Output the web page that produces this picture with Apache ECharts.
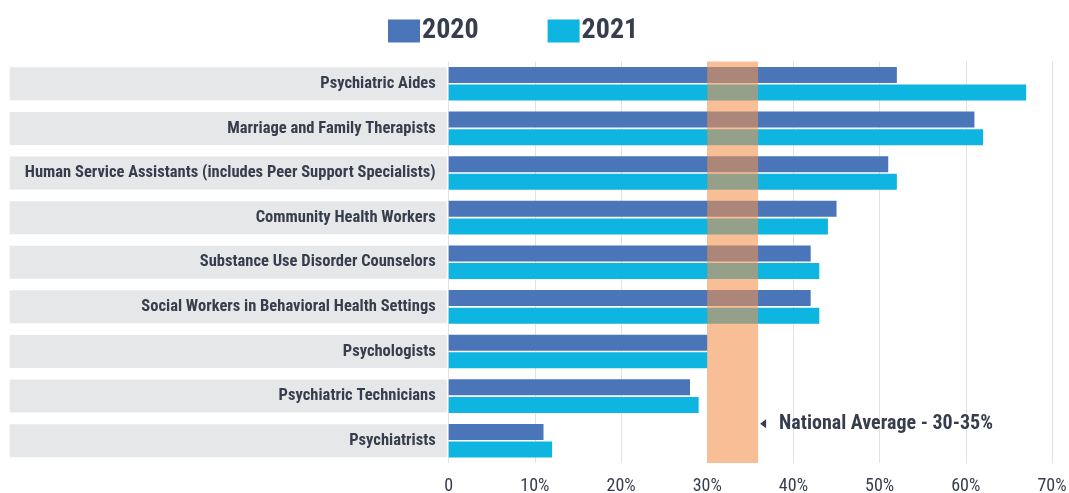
<!DOCTYPE html>
<html>
<head>
<meta charset="utf-8">
<script src="https://cdn.jsdelivr.net/npm/echarts@6/dist/echarts.min.js"></script>
<style>html,body{margin:0;padding:0;background:#fff;}#c{width:1069px;height:493px;}</style>
</head>
<body>
<div id="c"></div>
<script>
const categories = [
  'Psychiatric Aides',
  'Marriage and Family Therapists',
  'Human Service Assistants (includes Peer Support Specialists)',
  'Community Health Workers',
  'Substance Use Disorder Counselors',
  'Social Workers in Behavioral Health Settings',
  'Psychologists',
  'Psychiatric Technicians',
  'Psychiatrists'
];
const values2020 = [52, 61, 51, 45, 42, 42, 30, 28, 11];
const values2021 = [67, 62, 52, 44, 43, 43, 30, 29, 12];
const seriesNames = ['2020', '2021'];
const nationalAvgRange = [30, 35.9];
const nationalAvgLabel = 'National Average - 30-35%';
const xTicks = [0, 10, 20, 30, 40, 50, 60, 70];

const FONT = "'Roboto Condensed','Liberation Sans Narrow','DejaVu Sans Condensed',Roboto,sans-serif";
const TXT = '#363d4c';

const chart = echarts.init(document.getElementById('c'));
chart.setOption({
  animation: false,
  backgroundColor: '#ffffff',
  legend: {
    left: 383, top: 12,
    itemWidth: 32, itemHeight: 23, itemGap: 69,
    icon: 'rect',
    textStyle: { fontFamily: FONT, fontWeight: 'bold', fontSize: 28, color: TXT, padding: [0, 0, 0, -3] },
    data: seriesNames
  },
  grid: { left: 448.7, right: 17, top: 61.5, bottom: 30, containLabel: false, outerBoundsMode: 'none' },
  xAxis: {
    type: 'value', min: xTicks[0], max: xTicks[xTicks.length - 1], interval: 10,
    axisLine: { show: false }, axisTick: { show: false },
    splitLine: { show: true, lineStyle: { color: '#e2e2e2', width: 1 } },
    axisLabel: {
      margin: 14, fontFamily: FONT, fontSize: 18, color: TXT,
      formatter: v => v === 0 ? '0' : v + '%'
    }
  },
  yAxis: {
    type: 'category', data: categories, inverse: true,
    axisLine: { show: false }, axisTick: { show: false },
    axisLabel: {
      margin: 2, fontFamily: FONT, fontWeight: 'bold', fontSize: 16.5, color: TXT,
      backgroundColor: '#e6e7e8', width: 426, height: 30, lineHeight: 30,
      align: 'right', padding: [3, 11, 0, 0], overflow: 'none'
    }
  },
  series: [
    {
      name: seriesNames[0], type: 'bar', data: values2020,
      barWidth: 16, barGap: '10%',
      itemStyle: { color: '#4a76b9' }
    },
    {
      name: seriesNames[1], type: 'bar', data: values2021,
      barWidth: 16, barGap: '10%',
      itemStyle: { color: '#0db5e0' }
    },
    {
      name: 'avg', type: 'line', data: [], z: 5, silent: true,
      markArea: {
        silent: true, z: 10,
        itemStyle: { color: 'rgba(243,147,79,0.59)' },
        data: [[{ xAxis: nationalAvgRange[0] }, { xAxis: nationalAvgRange[1] }]]
      },
      markPoint: {
        silent: true, z: 11,
        symbol: 'triangle', symbolSize: [9, 6], symbolRotate: 90,
        symbolOffset: [5, -17],
        itemStyle: { color: TXT },
        label: {
          show: true, position: 'right', distance: 13,
          fontFamily: FONT, fontWeight: 'bold', fontSize: 20, color: TXT,
          formatter: nationalAvgLabel
        },
        data: [{ coord: [nationalAvgRange[1], categories[categories.length - 1]] }]
      }
    }
  ]
});
</script>
</body>
</html>
